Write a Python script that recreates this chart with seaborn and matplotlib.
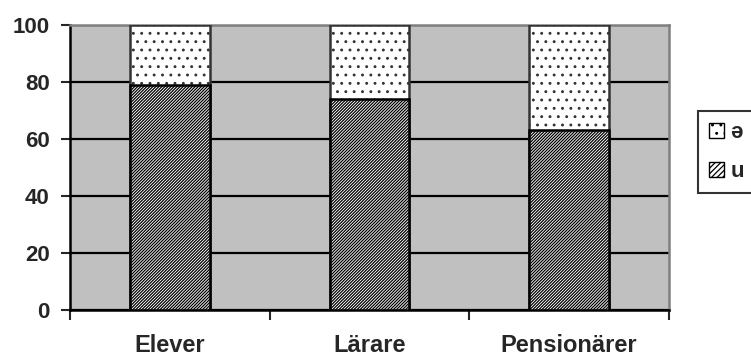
import matplotlib
matplotlib.use('Agg')
import matplotlib.pyplot as plt
import seaborn as sns
import pandas as pd
from matplotlib.patches import Patch

categories = ['Elever', 'Lärare', 'Pensionärer']
u_values = [79, 74, 63]
schwa_values = [21, 26, 37]
y_ticks = [0, 20, 40, 60, 80, 100]

sns.set_style('white')
plt.rcParams['font.family'] = ['Liberation Sans', 'DejaVu Sans']
plt.rcParams['hatch.linewidth'] = 0.9

df = pd.DataFrame({
    'group': categories,
    'u': u_values,
    'total': [u + s for u, s in zip(u_values, schwa_values)],
})

fig = plt.figure(figsize=(7.51, 3.56), dpi=100)
ax = fig.add_axes([70 / 751, 1 - 310 / 356, 599 / 751, 285 / 356])
ax.set_facecolor('#c0c0c0')

# top part (ə) drawn as full-height bar, u drawn over it
sns.barplot(data=df, x='group', y='total', color='white', width=0.4,
            edgecolor='#333333', linewidth=1.8, hatch='..', ax=ax, zorder=3)
sns.barplot(data=df, x='group', y='u', color='white', width=0.4,
            edgecolor='black', linewidth=1.8, hatch='///////////', ax=ax, zorder=4)

ax.set_ylim(0, 100)
ax.set_xlim(-0.5, 2.5)
ax.set_yticks(y_ticks)
ax.yaxis.grid(True, color='black', linewidth=1.6, zorder=1)
ax.set_axisbelow(True)
ax.set_xlabel('')
ax.set_ylabel('')

ax.tick_params(axis='y', length=6.5, width=1.5, direction='out', left=True,
               labelsize=16, pad=8)
ax.tick_params(axis='x', length=0, labelsize=17, pad=17)
ax.set_xticks([-0.5, 0.5, 1.5, 2.5], minor=True)
ax.tick_params(axis='x', which='minor', length=7, width=1.5, direction='out',
               bottom=True)
for lbl in ax.get_xticklabels() + ax.get_yticklabels():
    lbl.set_fontweight('bold')

for side in ['left', 'bottom']:
    ax.spines[side].set_color('black')
    ax.spines[side].set_linewidth(1.8)
for side in ['top', 'right']:
    ax.spines[side].set_color('#808080')
    ax.spines[side].set_linewidth(1.8)

handles = [
    Patch(facecolor='white', edgecolor='black', hatch='..', label='ə'),
    Patch(facecolor='white', edgecolor='black', hatch='//////', label='u'),
]
leg = fig.legend(handles=handles, loc='upper left',
                 bbox_to_anchor=(698 / 751, 1 - 111 / 356),
                 frameon=True, fancybox=False, handlelength=0.65,
                 handleheight=0.65, handletextpad=0.3, labelspacing=0.8,
                 borderpad=0.5, borderaxespad=0, prop={'weight': 'bold', 'size': 16})
leg.get_frame().set_edgecolor('black')
leg.get_frame().set_linewidth(1.5)

fig.savefig('out.png', dpi=100)
